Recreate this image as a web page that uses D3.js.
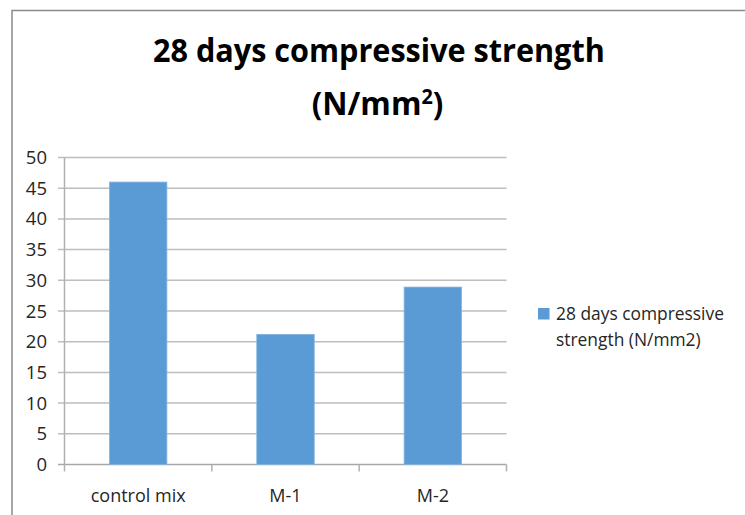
<!DOCTYPE html>
<html>
<head>
<meta charset="utf-8">
<script src="https://cdn.jsdelivr.net/npm/d3@7"></script>
<style>
  html, body { margin: 0; padding: 0; background: #fff; }
  svg { display: block; font-family: "Open Sans", "Liberation Sans", sans-serif; }
</style>
</head>
<body>
<svg id="chart" width="745" height="515"></svg>
<script>
// ---- data ----
const categories = ["control mix", "M-1", "M-2"];
const values = [46, 21.2, 28.9];
const seriesName = "28 days compressive strength (N/mm2)";
const legendLines = ["28 days compressive", "strength (N/mm2)"];
const yTicks = [0, 5, 10, 15, 20, 25, 30, 35, 40, 45, 50];
const titleLine1 = "28 days compressive strength";
const titleLine2 = ["(N/mm", "2", ")"];

// ---- layout ----
const svg = d3.select("#chart");
const W = 745, H = 515;
const plot = { left: 64.5, right: 506.5, top: 157.5, bottom: 464.5 };

svg.append("rect").attr("x", 0).attr("y", 0).attr("width", W).attr("height", H).attr("fill", "#fff");
// outer chart border
svg.append("rect")
  .attr("x", 12).attr("y", 10.5).attr("width", W + 10).attr("height", H + 10)
  .attr("fill", "none").attr("stroke", "#8a8a8a").attr("stroke-width", 1.5);

const x = d3.scaleBand().domain(categories).range([plot.left, plot.right]).paddingInner(0).paddingOuter(0);
const y = d3.scaleLinear().domain([0, 50]).range([plot.bottom, plot.top]);

// gridlines
svg.append("g").selectAll("line").data(yTicks).join("line")
  .attr("x1", plot.left - 6.5).attr("x2", plot.right)
  .attr("y1", d => y(d)).attr("y2", d => y(d))
  .attr("stroke", d => d === 0 ? "#a6a6a6" : "#bdbdbd").attr("stroke-width", 1.5);

// y axis line
svg.append("line")
  .attr("x1", plot.left).attr("x2", plot.left)
  .attr("y1", plot.top).attr("y2", plot.bottom + 7)
  .attr("stroke", "#b0b0b0").attr("stroke-width", 1.5);

// x axis category ticks
const bounds = categories.map(c => x(c)).concat([plot.right]);
svg.append("g").selectAll("line").data(bounds.slice(1)).join("line")
  .attr("x1", d => d).attr("x2", d => d)
  .attr("y1", plot.bottom).attr("y2", plot.bottom + 7)
  .attr("stroke", "#b0b0b0").attr("stroke-width", 1.5);

// bars
const barFrac = 0.39;
svg.append("g").selectAll("rect").data(values).join("rect")
  .attr("x", (d, i) => x(categories[i]) + x.bandwidth() * (1 - barFrac) / 2)
  .attr("width", x.bandwidth() * barFrac)
  .attr("y", d => y(d))
  .attr("height", d => y(0) - y(d))
  .attr("fill", "#5b9bd5")
  .attr("stroke", "#86b5e0").attr("stroke-width", 0.8);

// y tick labels
svg.append("g").selectAll("text").data(yTicks).join("text")
  .attr("x", 47).attr("y", d => y(d) + 6.5)
  .attr("text-anchor", "end")
  .attr("font-size", 18.5).attr("fill", "#262626")
  .text(d => d);

// helper: horizontally scale a group to a target width, centered
function fitGroup(g, cx, baseline, targetW) {
  const bb = g.node().getBBox();
  const s = targetW / bb.width;
  g.attr("transform", `translate(${cx - (bb.x + bb.width / 2) * s},${baseline}) scale(${s},1)`);
}

// x labels
const xFont = 18;
const xLabelScale = (() => {
  const t = svg.append("text").attr("font-size", xFont).text(categories[0]);
  const w = t.node().getComputedTextLength();
  t.remove();
  return 95 / w;
})();
categories.forEach(c => {
  const g = svg.append("g");
  g.append("text").attr("x", 0).attr("y", 0).attr("font-size", xFont).attr("fill", "#262626")
    .attr("text-anchor", "middle").text(c);
  g.attr("transform", `translate(${x(c) + x.bandwidth() / 2},501.5) scale(${xLabelScale},1)`);
});

// title
const t1 = svg.append("g");
t1.append("text").attr("font-size", 33).attr("font-weight", "bold").attr("fill", "#000").text(titleLine1);
fitGroup(t1, 379, 62, 452);

const t2 = svg.append("g");
const t2text = t2.append("text").attr("font-size", 33).attr("font-weight", "bold").attr("fill", "#000");
t2text.append("tspan").text(titleLine2[0]);
t2text.append("tspan").attr("font-size", 21).attr("dy", -11).text(titleLine2[1]);
t2text.append("tspan").attr("dy", 11).text(titleLine2[2]);
fitGroup(t2, 377.5, 115, 131.5);

// legend
svg.append("rect").attr("x", 538).attr("y", 308).attr("width", 11.5).attr("height", 11.5).attr("fill", "#5b9bd5");
const legFont = 17.5;
const legScale = (() => {
  const t = svg.append("text").attr("font-size", legFont).text(legendLines[0]);
  const w = t.node().getComputedTextLength();
  t.remove();
  return 168 / w;
})();
legendLines.forEach((ln, i) => {
  const g = svg.append("g");
  g.append("text").attr("x", 0).attr("y", 0).attr("font-size", legFont).attr("fill", "#262626").text(ln);
  g.attr("transform", `translate(556,${319.5 + i * 26}) scale(${legScale},1)`);
});
</script>
</body>
</html>
